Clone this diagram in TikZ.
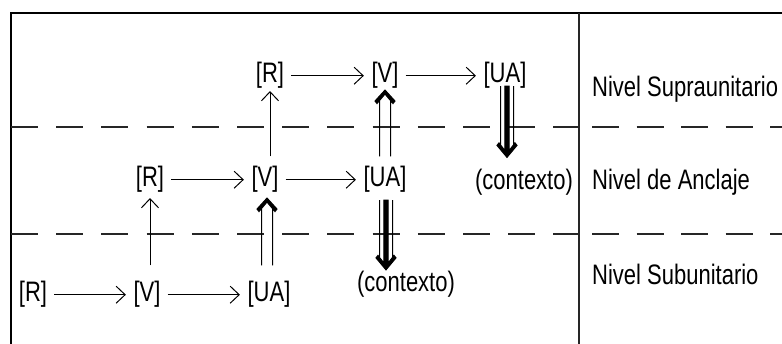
\documentclass[tikz,border=0pt]{standalone}
\usepackage{fontspec}
\setmainfont{Liberation Sans}
\usepackage{graphicx}
\usetikzlibrary{arrows.meta,calc}
\newcommand\tallt[1]{\scalebox{1}[1.28]{#1}}
\begin{document}
\begin{tikzpicture}[x=1pt,y=-1pt,
  txt/.style={inner sep=0pt, anchor=base, font=\fontsize{22}{26}\selectfont},
  lbl/.style={inner sep=0pt, anchor=base west, font=\fontsize{22}{26}\selectfont},
  harr/.style={line width=1pt, -{Straight Barb[length=9pt,width=17pt,line width=1pt]}, shorten <=7pt, shorten >=7.5pt},
  varr/.style={line width=1pt, -{Straight Barb[length=9pt,width=17pt,line width=1pt]}},
  framel/.style={line width=2pt, draw=black},
  sepl/.style={line width=1.8pt, draw=black!85},
  dblup/.style={fill=black, line width=1pt, to path={let \p1=(\tikztostart), \p2=(\tikztotarget) in
     (\x1-5.5pt,\y1) -- (\x1-5.5pt,\y2-8pt)
     (\x1+5.5pt,\y1) -- (\x1+5.5pt,\y2-8pt)
     (\x1-10pt,\y2-11pt) -- (\x1,\y2) -- (\x1+10pt,\y2-11pt) -- (\x1+8pt,\y2-13.5pt) -- (\x1,\y2-4pt) -- (\x1-8pt,\y2-13.5pt) -- cycle}},
  thdown/.style={fill=black, line width=1pt, to path={let \p1=(\tikztostart), \p2=(\tikztotarget) in
     (\x1-6.5pt,\y1) -- (\x1-6.5pt,\y2+9pt)
     (\x1+6.5pt,\y1) -- (\x1+6.5pt,\y2+9pt)
     (\x1-2.2pt,\y1) rectangle (\x1+2.2pt,\y2+3pt)
     (\x1-10pt,\y2+12pt) -- (\x1,\y2) -- (\x1+10pt,\y2+12pt) -- (\x1+8pt,\y2+14.5pt) -- (\x1,\y2+4pt) -- (\x1-8pt,\y2+14.5pt) -- cycle}}
]
\useasboundingbox (0,0) rectangle (782,344);
\fill[white] (0,0) rectangle (782,344);
% frame
\coordinate (tl) at (11,13);
\coordinate (tr) at (790,13);
\coordinate (bl) at (11,350);
\coordinate (st) at (579,13);
\coordinate (sb) at (579,350);
\draw[framel] (tr) -- (tl) -- (bl);
\draw[sepl] (st) -- (sb);
% dashed separators
\coordinate (d1a) at (11,127); \coordinate (d1b) at (579,127);
\coordinate (d1c) at (592,127); \coordinate (d1d) at (790,127);
\coordinate (d2a) at (11,234); \coordinate (d2b) at (579,234);
\coordinate (d2c) at (592,234); \coordinate (d2d) at (790,234);
\draw[sepl, dash pattern=on 27pt off 18.2pt] (d1a) -- (d1b);
\draw[sepl, dash pattern=on 27pt off 17.5pt] (d1c) -- (d1d);
\draw[sepl, dash pattern=on 27pt off 18.2pt] (d2a) -- (d2b);
\draw[sepl, dash pattern=on 27pt off 17.5pt] (d2c) -- (d2d);
% nodes
\node[txt] (R1) at (33,302) {\tallt{[R]}};
\node[txt] (V1) at (147,302) {\tallt{[V]}};
\node[txt] (UA1) at (269,302) {\tallt{[UA]}};
\node[txt] (R2) at (150,187) {\tallt{[R]}};
\node[txt] (V2) at (265,187) {\tallt{[V]}};
\node[txt] (UA2) at (385,187) {\tallt{[UA]}};
\node[txt] (R3) at (270,83) {\tallt{[R]}};
\node[txt] (V3) at (385,83) {\tallt{[V]}};
\node[txt] (UA3) at (505,83) {\tallt{[UA]}};
\node[txt] (C2) at (524,190) {\tallt{(contexto)}};
\node[txt] (C1) at (406,292) {\tallt{(contexto)}};
\node[lbl] (L3) at (592,97) {\tallt{Nivel Supraunitario}};
\node[lbl] (L2) at (592,190) {\tallt{Nivel de Anclaje}};
\node[lbl] (L1) at (592,285) {\tallt{Nivel Subunitario}};
% horizontal arrows
\draw[harr] (R1) -- (V1);
\draw[harr] (V1) -- (UA1);
\draw[harr] (R2) -- (V2);
\draw[harr] (V2) -- (UA2);
\draw[harr] (R3) -- (V3);
\draw[harr] (V3) -- (UA3);
% vertical arrows
\draw[varr] ([yshift=16pt]V1.north -| R2.south) -- ([yshift=-5pt]R2.south);
\draw[varr] ([yshift=10pt]V2.north -| R3.south) -- ([yshift=-2pt]R3.south);
\draw[dblup] ([xshift=-2pt,yshift=16pt]UA1.north) to ([yshift=-5pt]V2.south);
\draw[dblup] ([yshift=10pt]UA2.north) to ([yshift=-1pt]V3.south);
\draw[thdown] ([xshift=2pt,yshift=3pt]UA3.south) to ([yshift=12pt]C2.north);
\draw[thdown] ([xshift=1pt,yshift=-7pt]UA2.south) to ([yshift=1.5pt]C1.north);
\end{tikzpicture}
\end{document}
